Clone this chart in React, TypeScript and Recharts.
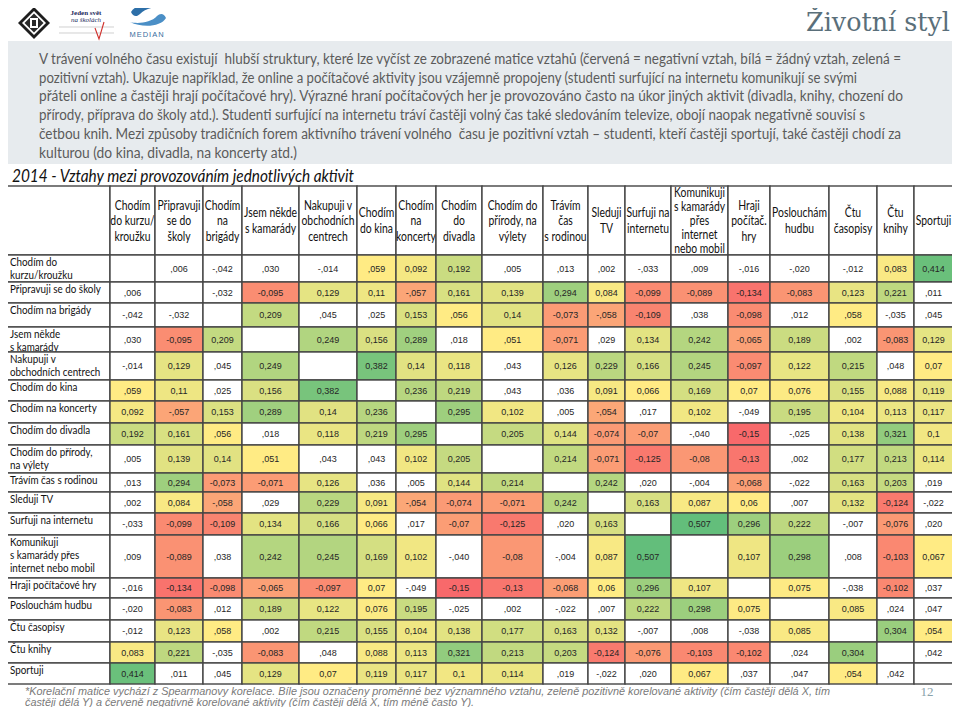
import React from "react";
import { ComposedChart, XAxis, YAxis, ReferenceArea } from "recharts";

// ---------- DATA ----------
const slideTitle = "Životní styl";
const slideNumber = "12";
const tableTitle = "2014 - Vztahy mezi provozováním jednotlivých aktivit";

const introLines = [
  "V trávení volného času existují  hlubší struktury, které lze vyčíst ze zobrazené matice vztahů (červená = negativní vztah, bílá = žádný vztah, zelená =",
  "pozitivní vztah). Ukazuje například, že online a počítačové aktivity jsou vzájemně propojeny (studenti surfující na internetu komunikují se svými",
  "přáteli online a častěji hrají počítačové hry). Výrazné hraní počítačových her je provozováno často na úkor jiných aktivit (divadla, knihy, chození do",
  "přírody, příprava do školy atd.). Studenti surfující na internetu tráví častěji volný čas také sledováním televize, obojí naopak negativně souvisí s",
  "četbou knih. Mezi způsoby tradičních forem aktivního trávení volného  času je pozitivní vztah – studenti, kteří častěji sportují, také častěji chodí za",
  "kulturou (do kina, divadla, na koncerty atd.)",
];

const footnoteLines = [
  "*Korelační matice vychází z Spearmanovy korelace. Bíle jsou označeny proměnné bez významného vztahu, zeleně pozitivně korelované aktivity (čím častěji dělá X, tím",
  "častěji dělá Y) a červeně negativně korelované aktivity (čím častěji dělá X, tím méně často Y).",
];

const colHeaders = [
  ["Chodím", "do kurzu/", "kroužku"],
  ["Připravuji", "se do", "školy"],
  ["Chodím", "na", "brigády"],
  ["Jsem někde", "s kamarády"],
  ["Nakupuji v", "obchodních", "centrech"],
  ["Chodím", "do kina"],
  ["Chodím", "na", "koncerty"],
  ["Chodím", "do", "divadla"],
  ["Chodím do", "přírody, na", "výlety"],
  ["Trávím", "čas", "s rodinou"],
  ["Sleduji", "TV"],
  ["Surfuji na", "internetu"],
  ["Komunikuji", "s kamarády", "přes", "internet", "nebo mobil"],
  ["Hraji", "počítač.", "hry"],
  ["Poslouchám", "hudbu"],
  ["Čtu", "časopisy"],
  ["Čtu", "knihy"],
  ["Sportuji"],
];

const rowLabels = [
  ["Chodím do", "kurzu/kroužku"],
  ["Připravuji se do školy"],
  ["Chodím na brigády"],
  ["Jsem někde", "s kamarády"],
  ["Nakupuji v", "obchodních centrech"],
  ["Chodím do kina"],
  ["Chodím na koncerty"],
  ["Chodím do divadla"],
  ["Chodím do přírody,", "na výlety"],
  ["Trávím čas s rodinou"],
  ["Sleduji TV"],
  ["Surfuji na internetu"],
  ["Komunikuji", "s kamarády přes", "internet nebo mobil"],
  ["Hraji počítačové hry"],
  ["Poslouchám hudbu"],
  ["Čtu časopisy"],
  ["Čtu knihy"],
  ["Sportuji"],
];

const rowKurz = ["", ",006", "-,042", ",030", "-,014", ",059", "0,092", "0,192", ",005", ",013", ",002", "-,033", ",009", "-,016", "-,020", "-,012", "0,083", "0,414"];
const rowSkola = [",006", "", "-,032", "-0,095", "0,129", "0,11", "-,057", "0,161", "0,139", "0,294", "0,084", "-0,099", "-0,089", "-0,134", "-0,083", "0,123", "0,221", ",011"];
const rowBrigady = ["-,042", "-,032", "", "0,209", ",045", ",025", "0,153", ",056", "0,14", "-0,073", "-,058", "-0,109", ",038", "-0,098", ",012", ",058", "-,035", ",045"];
const rowKamaradi = [",030", "-0,095", "0,209", "", "0,249", "0,156", "0,289", ",018", ",051", "-0,071", ",029", "0,134", "0,242", "-0,065", "0,189", ",002", "-0,083", "0,129"];
const rowNakupy = ["-,014", "0,129", ",045", "0,249", "", "0,382", "0,14", "0,118", ",043", "0,126", "0,229", "0,166", "0,245", "-0,097", "0,122", "0,215", ",048", "0,07"];
const rowKino = [",059", "0,11", ",025", "0,156", "0,382", "", "0,236", "0,219", ",043", ",036", "0,091", "0,066", "0,169", "0,07", "0,076", "0,155", "0,088", "0,119"];
const rowKoncerty = ["0,092", "-,057", "0,153", "0,289", "0,14", "0,236", "", "0,295", "0,102", ",005", "-,054", ",017", "0,102", "-,049", "0,195", "0,104", "0,113", "0,117"];
const rowDivadlo = ["0,192", "0,161", ",056", ",018", "0,118", "0,219", "0,295", "", "0,205", "0,144", "-0,074", "-0,07", "-,040", "-0,15", "-,025", "0,138", "0,321", "0,1"];
const rowPriroda = [",005", "0,139", "0,14", ",051", ",043", ",043", "0,102", "0,205", "", "0,214", "-0,071", "-0,125", "-0,08", "-0,13", ",002", "0,177", "0,213", "0,114"];
const rowRodina = [",013", "0,294", "-0,073", "-0,071", "0,126", ",036", ",005", "0,144", "0,214", "", "0,242", ",020", "-,004", "-0,068", "-,022", "0,163", "0,203", ",019"];
const rowTV = [",002", "0,084", "-,058", ",029", "0,229", "0,091", "-,054", "-0,074", "-0,071", "0,242", "", "0,163", "0,087", "0,06", ",007", "0,132", "-0,124", "-,022"];
const rowSurf = ["-,033", "-0,099", "-0,109", "0,134", "0,166", "0,066", ",017", "-0,07", "-0,125", ",020", "0,163", "", "0,507", "0,296", "0,222", "-,007", "-0,076", ",020"];
const rowKomunik = [",009", "-0,089", ",038", "0,242", "0,245", "0,169", "0,102", "-,040", "-0,08", "-,004", "0,087", "0,507", "", "0,107", "0,298", ",008", "-0,103", "0,067"];
const rowHry = ["-,016", "-0,134", "-0,098", "-0,065", "-0,097", "0,07", "-,049", "-0,15", "-0,13", "-0,068", "0,06", "0,296", "0,107", "", "0,075", "-,038", "-0,102", ",037"];
const rowHudba = ["-,020", "-0,083", ",012", "0,189", "0,122", "0,076", "0,195", "-,025", ",002", "-,022", ",007", "0,222", "0,298", "0,075", "", "0,085", ",024", ",047"];
const rowCasopisy = ["-,012", "0,123", ",058", ",002", "0,215", "0,155", "0,104", "0,138", "0,177", "0,163", "0,132", "-,007", ",008", "-,038", "0,085", "", "0,304", ",054"];
const rowKnihy = ["0,083", "0,221", "-,035", "-0,083", ",048", "0,088", "0,113", "0,321", "0,213", "0,203", "-0,124", "-0,076", "-0,103", "-0,102", ",024", "0,304", "", ",042"];
const rowSport = ["0,414", ",011", ",045", "0,129", "0,07", "0,119", "0,117", "0,1", "0,114", ",019", "-,022", ",020", "0,067", ",037", ",047", ",054", ",042", ""];

const matrix = [
  rowKurz, rowSkola, rowBrigady, rowKamaradi, rowNakupy, rowKino, rowKoncerty, rowDivadlo, rowPriroda,
  rowRodina, rowTV, rowSurf, rowKomunik, rowHry, rowHudba, rowCasopisy, rowKnihy, rowSport,
];

// ---------- LAYOUT ----------
const W = 960;
const H = 715;
const TABLE_X = 6;
const LABEL_COL_W = 104;
const colWidths = [45, 48, 39, 57, 58, 39, 40, 46, 61, 45, 37, 46, 57, 42, 59, 48, 37, 39];
const HEADER_Y = 186;
const HEADER_H = 69;
const rowHeights = [27, 21, 24, 25, 28, 21, 22, 22, 28, 19, 21, 22, 43, 20, 22, 22, 21, 21];
const introWidths = [862, 818, 864, 826, 862, 258];

const colEdges: number[] = [TABLE_X + LABEL_COL_W];
colWidths.forEach((w) => colEdges.push(colEdges[colEdges.length - 1] + w));
const rowEdges: number[] = [HEADER_Y + HEADER_H];
rowHeights.forEach((h) => rowEdges.push(rowEdges[rowEdges.length - 1] + h));

const GRID = "#454545";
const TABLE_FONT = "Lato, 'Open Sans', sans-serif";

const RED = [248, 105, 107];
const YEL = [255, 235, 132];
const GRN = [99, 190, 123];
const mix = (a: number[], b: number[], t: number) => {
  const c = Math.max(0, Math.min(1, t));
  const r = a.map((v, i) => Math.round(v + (b[i] - v) * c));
  return `rgb(${r[0]},${r[1]},${r[2]})`;
};
const parseVal = (s: string) => parseFloat(s.replace(",", "."));
const cellColor = (s: string) => {
  if (!s) return "#ffffff";
  const v = parseVal(s);
  if (Math.abs(v) < 0.05) return "#ffffff";
  if (v < 0) return mix(RED, YEL, (v + 0.15) / 0.2);
  return mix(YEL, GRN, (v - 0.07) / 0.36);
};

// ---------- SHAPES ----------
const ValueCell = (p: any) => (
  <g>
    <rect x={p.x} y={p.y} width={p.width} height={p.height} fill={p.cellFill} stroke={GRID} strokeWidth={1.4} />
    {p.text ? (
      <text
        x={p.x + p.width / 2}
        y={p.y + p.height / 2 + 3.2}
        textAnchor="middle"
        fontFamily="'Liberation Sans', Arial, sans-serif"
        fontSize={9}
        fill="#262626"
      >
        {p.text}
      </text>
    ) : null}
  </g>
);

const HeaderCell = (p: any) => {
  const lines: string[] = p.lines || [];
  const n = lines.length;
  const sp = n >= 5 ? 14 : 15.5;
  const cy = 221;
  return (
    <g>
      <rect x={p.x} y={p.y} width={p.width} height={p.height} fill="#ffffff" stroke={GRID} strokeWidth={1.4} />
      {lines.map((ln, i) => (
        <text
          key={i}
          transform={`translate(${p.x + p.width / 2},${cy - ((n - 1) * sp) / 2 + i * sp + 4}) scale(0.83,1)`}
          textAnchor="middle"
          fontFamily={TABLE_FONT}
          fontSize={12.5}
          fill="#111"
        >
          {ln}
        </text>
      ))}
    </g>
  );
};

const RowLabelCell = (p: any) => {
  const lines: string[] = p.lines || [];
  return (
    <g>
      <rect x={p.x} y={p.y} width={p.width} height={p.height} fill="#ffffff" stroke={GRID} strokeWidth={1.4} />
      {lines.map((ln, i) => (
        <text
          key={i}
          transform={`translate(${p.x + 4},${p.y + 11 + i * 13}) scale(0.8,1)`}
          fontFamily={TABLE_FONT}
          fontSize={12.3}
          fill="#111"
        >
          {ln}
        </text>
      ))}
    </g>
  );
};

// ---------- DECOR ----------
const Decor = () => (
  <svg width={W} height={H} style={{ position: "absolute", left: 0, top: 0 }}>
    <rect x={0} y={0} width={W} height={H} fill="#ffffff" />
    {/* logos */}
    <g>
      <polygon points="34,7 50,23 34,39 18,23" fill="#1e1e1e" />
      <polygon points="34,11 46,23 34,35 22,23" fill="#ffffff" />
      <polygon points="34,13.5 43.5,23 34,32.5 24.5,23" fill="#2a2a2a" />
      <rect x={30} y={18} width={8} height={10} fill="#ffffff" />
      <rect x={32} y={20} width={4} height={6} fill="#2a2a2a" />
    </g>
    <g>
      <line x1={59} y1={4} x2={114} y2={4} stroke="#bbb" strokeWidth={0.7} />
      <line x1={59} y1={27} x2={114} y2={27} stroke="#bbb" strokeWidth={0.7} />
      <line x1={59} y1={33} x2={114} y2={33} stroke="#bbb" strokeWidth={0.7} />
      <text x={86} y={15} textAnchor="middle" fontFamily="'Liberation Serif', serif" fontSize={7} fontWeight="bold" fill="#1d2b5c">Jeden svět</text>
      <text x={86} y={22} textAnchor="middle" fontFamily="'Liberation Serif', serif" fontSize={7} fontStyle="italic" fill="#1d2b5c">na školách</text>
      <path d="M95,28 L99,39 L104,22" fill="none" stroke="#d0312d" strokeWidth={1.1} />
    </g>
    <g>
      <path d="M131,12 C136,3 155,2 166,8 C160,6 146,7 140,14 C137,17 133,17 131,12 Z" fill="#2d6fa8" />
      <path d="M166,18 C161,27 142,28 130,22 C137,24 151,23 157,16 C160,13 164,13 166,18 Z" fill="#4b8fc6" />
      <text x={147} y={37} textAnchor="middle" fontFamily="'Liberation Sans', Arial, sans-serif" fontSize={7.5} letterSpacing={1} fill="#3a6e9e">MEDIAN</text>
    </g>
    <text
      x={950}
      y={31}
      textAnchor="end"
      fontFamily="'DejaVu Serif', 'Liberation Serif', serif"
      fontSize={26}
      fill="#5a6f7a"
      textLength={144}
      lengthAdjust="spacingAndGlyphs"
    >
      {slideTitle}
    </text>
    {/* intro band */}
    <rect x={0} y={41} width={W} height={123} fill="#e7ebee" />
    {introLines.map((ln, i) => (
      <text
        key={i}
        x={39}
        y={64 + i * 18.7}
        fontFamily="Lato, 'Open Sans', sans-serif"
        fontSize={14.5}
        fill="#5b5b5b"
        textLength={introWidths[i]}
        lengthAdjust="spacingAndGlyphs"
        style={{ whiteSpace: "pre" }}
      >
        {ln}
      </text>
    ))}
    <text
      x={12}
      y={182}
      fontFamily="Lato, 'Open Sans', sans-serif"
      fontStyle="italic"
      fontSize={17}
      fill="#111"
      textLength={342}
      lengthAdjust="spacingAndGlyphs"
    >
      {tableTitle}
    </text>
    {/* footnote */}
    <text
      x={25}
      y={695}
      fontFamily="'Liberation Sans Narrow', 'Liberation Sans', Arial, sans-serif"
      fontStyle="italic"
      fontSize={11}
      fill="#7a7a7a"
      textLength={805}
      lengthAdjust="spacingAndGlyphs"
    >
      {footnoteLines[0]}
    </text>
    <text
      x={25}
      y={706}
      fontFamily="'Liberation Sans Narrow', 'Liberation Sans', Arial, sans-serif"
      fontStyle="italic"
      fontSize={11}
      fill="#7a7a7a"
      textLength={449}
      lengthAdjust="spacingAndGlyphs"
    >
      {footnoteLines[1]}
    </text>
    <text x={927} y={696} textAnchor="middle" fontFamily="'Liberation Serif', serif" fontSize={13} fill="#8aa2ab">
      {slideNumber}
    </text>
    <rect x={0} y={695} width={4} height={20} fill="#c9d21e" />
  </svg>
);

export default function App() {
  const areas: React.ReactNode[] = [];
  areas.push(
    <ReferenceArea
      key="corner"
      x1={TABLE_X}
      x2={colEdges[0]}
      y1={HEADER_Y}
      y2={rowEdges[0]}
      ifOverflow="visible"
      shape={(p: any) => <HeaderCell {...p} lines={[]} />}
    />
  );
  colHeaders.forEach((lines, c) => {
    areas.push(
      <ReferenceArea
        key={`h${c}`}
        x1={colEdges[c]}
        x2={colEdges[c + 1]}
        y1={HEADER_Y}
        y2={rowEdges[0]}
        ifOverflow="visible"
        shape={(p: any) => <HeaderCell {...p} lines={lines} />}
      />
    );
  });
  rowLabels.forEach((lines, r) => {
    areas.push(
      <ReferenceArea
        key={`l${r}`}
        x1={TABLE_X}
        x2={colEdges[0]}
        y1={rowEdges[r]}
        y2={rowEdges[r + 1]}
        ifOverflow="visible"
        shape={(p: any) => <RowLabelCell {...p} lines={lines} />}
      />
    );
  });
  matrix.forEach((row, r) => {
    row.forEach((s, c) => {
      const fill = cellColor(s);
      areas.push(
        <ReferenceArea
          key={`c${r}-${c}`}
          x1={colEdges[c]}
          x2={colEdges[c + 1]}
          y1={rowEdges[r]}
          y2={rowEdges[r + 1]}
          ifOverflow="visible"
          shape={(p: any) => <ValueCell {...p} cellFill={fill} text={s} />}
        />
      );
    });
  });

  return (
    <div style={{ position: "relative", width: W, height: H, margin: -8, overflow: "hidden" }}>
      <Decor />
      <div style={{ position: "absolute", left: 0, top: 0 }}>
        <ComposedChart width={W} height={H} margin={{ top: 0, right: 0, bottom: 0, left: 0 }}>
          <XAxis type="number" dataKey="x" domain={[0, W]} hide allowDataOverflow />
          <YAxis type="number" dataKey="y" domain={[0, H]} reversed hide allowDataOverflow />
          {areas}
        </ComposedChart>
      </div>
    </div>
  );
}
